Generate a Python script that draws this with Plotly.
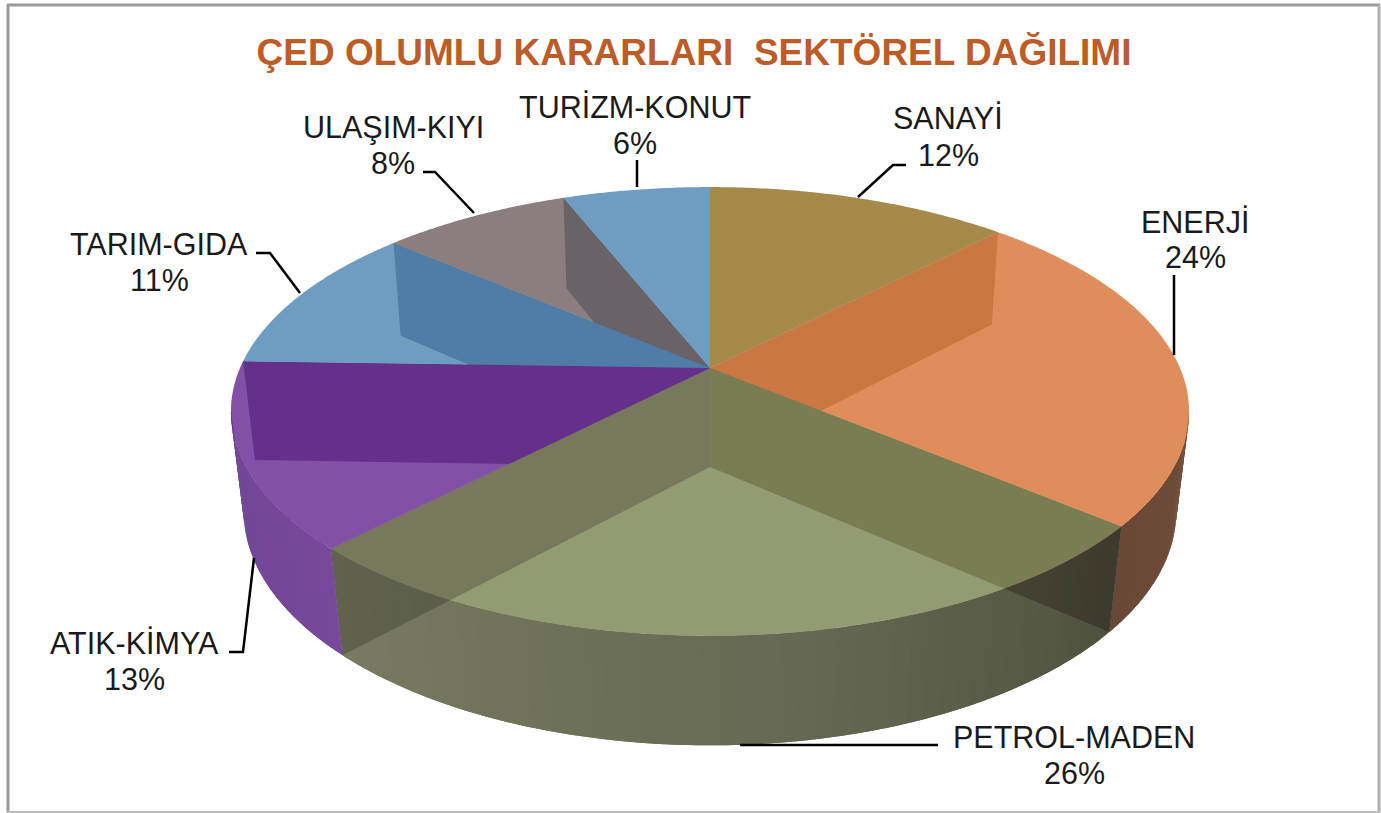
import numpy as np
import plotly.graph_objects as go

# ---- data ----
categories = ["SANAYİ", "ENERJİ", "PETROL-MADEN", "ATIK-KİMYA", "TARIM-GIDA", "ULAŞIM-KIYI", "TURİZM-KONUT"]
values = [12.3, 23.8, 26.1, 13.3, 10.8, 7.7, 6.0]
title_text = "ÇED OLUMLU KARARLARI\u00a0\u00a0SEKTÖREL DAĞILIMI"

# ---- style ----
W, H = 1381, 813
TOP_ALPHA = 0.8
top_seen = [(166, 138, 74), (223, 141, 90), (147, 155, 114), (131, 80, 168),
            (111, 157, 194), (138, 126, 126), (111, 157, 194)]
# colour of the radial wall at the start of each slice
wall_under = [None, (150, 150, 140), (171, 144, 130), (150, 100, 181),
              (100, 95, 115), (100, 95, 125), (90, 115, 135)]
wall_order = [6, 5, 4, 1, 3, 2]
wall_glaze = {2: "rgba(20,0,0,0.27)", 3: "rgba(0,0,0,0.2)"}
side_stops = {1: ((112, 78, 58), (104, 72, 54)),
              2: ((78, 81, 62), (104, 107, 84), (120, 123, 96)),
              3: ((120, 72, 155), (112, 70, 148))}

TOP = dict(cy=368.0, R=470.0, A=216.0, k=0.1938)
BOT = dict(cy=467.0, R=458.0, A=226.0, k=0.188)
CX = 710.0


def project(theta, f):
    d = 1 + f["k"] * np.cos(theta)
    return CX + f["R"] * np.sin(theta) / d, f["cy"] - f["A"] * np.cos(theta) / d


total = sum(values)
edges = np.concatenate([[0], np.cumsum(values)]) / total * 2 * np.pi
tangent = np.arccos(-TOP["k"])


def rim(a, b, f, n=None):
    n = n or max(3, int((b - a) / 0.01))
    return project(np.linspace(a, b, n), f)


def poly(fig, xs, ys, color):
    fig.add_trace(go.Scatter(x=list(xs), y=list(ys), mode="none", fill="toself",
                             fillcolor=color, hoverinfo="skip", showlegend=False))


def rgb(c):
    return "rgb(%d,%d,%d)" % tuple(int(round(v)) for v in c)


def top_rgba(seen):
    c = [(s - (1 - TOP_ALPHA) * 255) / TOP_ALPHA for s in seen]
    return "rgba(%d,%d,%d,%.2f)" % (round(c[0]), round(c[1]), round(c[2]), TOP_ALPHA)


def wall_xy(i):
    t = edges[i]
    tx, ty = project(t, TOP)
    bx, by = project(t, BOT)
    return [CX, tx, bx, CX, CX], [TOP["cy"], ty, by, BOT["cy"], TOP["cy"]]


def stop_color(stops, s):
    pos = np.linspace(0, 1, len(stops))
    return [np.interp(s, pos, [c[j] for c in stops]) for j in range(3)]


fig = go.Figure()

# radial walls, first pass
for i in wall_order:
    xs, ys = wall_xy(i)
    poly(fig, xs, ys, rgb(wall_under[i]))

# outer side strips of the front slices
for i, stops in side_stops.items():
    a = max(edges[i], tangent)
    b = min(edges[i + 1], 2 * np.pi - tangent)
    n = 48
    ts = np.linspace(a, b, n + 1)
    for j in range(n):
        hi = ts[min(j + 2, n)]
        tx, ty = rim(ts[j], hi, TOP, 6)
        bx, by = rim(hi, ts[j], BOT, 6)
        poly(fig, np.r_[tx, bx], np.r_[ty, by], rgb(stop_color(stops, j / (n - 1))))

# radial walls, glaze over the sides
for i, glaze in wall_glaze.items():
    xs, ys = wall_xy(i)
    poly(fig, xs, ys, glaze)

# top faces
for i in range(len(values)):
    rx, ry = rim(edges[i], edges[i + 1], TOP)
    poly(fig, np.r_[CX, rx, CX], np.r_[TOP["cy"], ry, TOP["cy"]], top_rgba(top_seen[i]))

# leader lines
leaders = [
    [(858, 197), (893, 165), (906, 165)],
    [(1174, 355), (1174, 275)],
    [(740, 745), (938, 745)],
    [(254, 558), (243, 652), (229, 652)],
    [(300, 293), (270, 253), (256, 253)],
    [(474, 213), (435, 172), (423, 172)],
    [(637, 187), (637, 160)],
]
for pts in leaders:
    fig.add_trace(go.Scatter(x=[p[0] for p in pts], y=[p[1] for p in pts], mode="lines",
                             line=dict(color="#000000", width=2.5), hoverinfo="skip", showlegend=False))

# labels: centre x, y of name line, y of percent line
label_pos = [(948, 118, 155), (1195, 222, 257), (1074, 737, 773), (134, 643, 679),
             (159, 244, 280), (393, 127, 163), (635, 107, 143)]
annotations = []
for cat, v, (x, y1, y2) in zip(categories, values, label_pos):
    for y, txt in ((y1, cat), (y2, f"{round(v / total * 100)}%")):
        annotations.append(dict(x=x, y=y, text=txt, showarrow=False, xanchor="center", yanchor="middle",
                                font=dict(family="Liberation Sans", size=30.5, color="#1a1a1a")))

frame = [
    dict(x0=8, y0=5, x1=8, y1=813, color="#9a9a9a", width=3),
    dict(x0=7, y0=5, x1=1380, y1=5, color="#9a9a9a", width=3),
    dict(x0=1379, y0=5, x1=1379, y1=813, color="#b0b0b0", width=3),
    dict(x0=7, y0=812, x1=1380, y1=812, color="#bdbdbd", width=2),
]
shapes = [dict(type="line", xref="x", yref="y", x0=s["x0"], y0=s["y0"], x1=s["x1"], y1=s["y1"],
               line=dict(color=s["color"], width=s["width"])) for s in frame]

fig.update_layout(
    width=W, height=H, margin=dict(l=0, r=0, t=0, b=0),
    paper_bgcolor="white", plot_bgcolor="white", showlegend=False,
    title=dict(text=title_text, x=694 / W, y=1 - 52 / H, xanchor="center", yanchor="middle",
               font=dict(family="Liberation Sans", size=37, color="#BE5C28", weight="bold")),
    xaxis=dict(range=[0, W], visible=False, fixedrange=True),
    yaxis=dict(range=[H, 0], visible=False, fixedrange=True),
    shapes=shapes, annotations=annotations,
)
fig.write_html("out.html", post_script="document.body.style.margin='0';document.body.style.overflow='hidden';",
               config={"displayModeBar": False})
